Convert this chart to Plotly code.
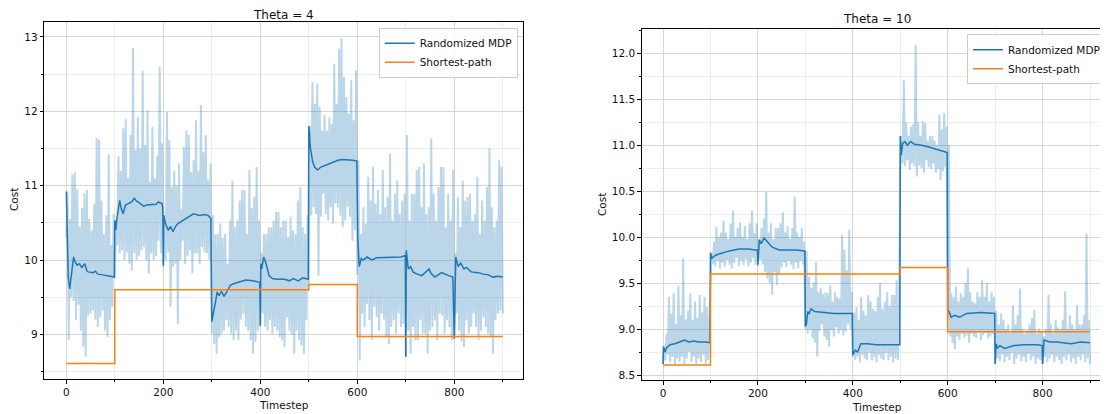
import plotly.graph_objects as go

# ---------------- data ----------------
t5 = [5 * i for i in range(181)]
seg_t = [0, 100, 200, 300, 400, 500, 600, 700, 800, 900]

# Theta = 4 panel
left_upper = [
    10.92, 10.55, 11.15, 11.18, 10.95, 10.45, 10.70, 10.90, 10.94, 10.55, 10.40, 10.75, 11.64, 11.62, 10.80, 10.35, 10.60, 11.42, 10.20, 10.62,
    10.53, 11.39, 11.20, 11.77, 11.90, 11.10, 11.68, 12.85, 11.48, 11.92, 11.50, 12.54, 11.55, 12.01, 11.05, 11.79, 11.10, 11.40, 12.60, 11.57,
    10.60, 11.99, 11.61, 10.98, 11.20, 11.00, 11.30, 10.69, 11.52, 11.74, 11.68, 11.18, 11.34, 11.88, 11.20, 12.08, 11.45, 11.68, 11.07, 11.30,
    10.60, 10.35, 10.35, 10.49, 10.30, 10.35, 9.95, 10.53, 11.07, 10.44, 10.53, 10.80, 10.94, 10.94, 10.35, 11.21, 10.70, 10.85, 11.25, 10.53,
    10.10, 10.35, 10.35, 10.44, 10.44, 10.53, 10.65, 10.65, 10.44, 10.53, 10.53, 10.31, 10.58, 10.40, 10.35, 10.80, 10.98, 10.44, 10.35, 10.60,
    11.80, 12.39, 12.10, 12.37, 12.06, 11.74, 11.95, 11.74, 11.92, 11.83, 12.64, 12.10, 12.84, 12.98, 12.46, 12.19, 11.97, 12.42, 11.88, 12.55,
    11.34, 10.35, 10.71, 10.49, 11.12, 10.80, 11.25, 10.76, 10.94, 10.62, 11.21, 10.71, 10.85, 11.43, 10.53, 10.89, 11.07, 10.62, 10.80, 10.89,
    11.68, 10.53, 10.89, 10.89, 11.21, 11.25, 10.71, 11.30, 10.62, 10.71, 11.64, 10.89, 10.53, 10.98, 11.25, 11.25, 10.44, 10.89, 10.53, 11.21,
    10.09, 10.85, 10.44, 11.07, 10.80, 10.85, 10.89, 10.53, 10.62, 11.12, 10.35, 10.80, 10.53, 10.98, 11.50, 10.71, 10.44, 10.53, 11.34, 11.25,
    10.09,
]
left_lower = [
    10.30, 8.92, 9.50, 9.45, 9.19, 9.40, 9.05, 8.83, 8.70, 9.25, 9.28, 9.32, 9.20, 9.10, 9.23, 9.32, 9.05, 8.96, 9.19, 9.37,
    9.75, 10.20, 10.09, 10.13, 10.00, 10.10, 9.95, 9.86, 10.09, 10.00, 10.05, 10.13, 10.17, 10.00, 9.82, 10.09, 10.00, 10.05, 10.26, 10.09,
    9.90, 10.00, 10.10, 9.37, 9.91, 9.95, 9.14, 10.00, 10.26, 9.95, 10.05, 10.13, 9.82, 10.09, 10.09, 9.95, 10.17, 10.10, 10.09, 10.00,
    9.01, 8.87, 8.74, 8.96, 9.01, 9.05, 9.19, 9.10, 9.01, 8.92, 9.05, 8.92, 9.20, 9.28, 9.10, 9.05, 8.92, 8.74, 8.90, 9.05,
    9.10, 9.28, 9.10, 9.05, 9.19, 9.01, 9.10, 9.05, 8.96, 8.92, 8.83, 9.23, 9.05, 9.00, 8.74, 9.05, 8.92, 8.85, 8.74, 9.19,
    9.64, 10.60, 10.71, 10.62, 9.79, 10.58, 10.89, 10.62, 10.53, 10.71, 10.49, 10.76, 10.71, 10.60, 10.44, 10.53, 10.71, 10.58, 10.26, 10.40,
    9.80, 8.65, 9.28, 9.10, 9.41, 9.19, 8.92, 9.37, 9.23, 9.05, 9.28, 9.20, 8.96, 8.87, 9.10, 9.19, 9.01, 9.28, 9.10, 9.14,
    8.70, 9.05, 8.74, 9.10, 8.92, 8.92, 9.19, 9.01, 9.01, 8.74, 9.05, 9.10, 9.19, 8.92, 9.28, 9.25, 9.01, 9.19, 9.10, 8.92,
    8.94, 9.28, 9.05, 8.90, 8.83, 9.19, 9.01, 9.10, 9.28, 9.10, 8.92, 9.05, 9.23, 9.10, 9.01, 8.96, 8.74, 9.19, 9.28, 9.32,
    9.28,
]
left_mean_t = [
    0, 2, 4, 7, 10, 15, 18, 22, 27, 32, 38, 42, 45, 55, 60, 65, 75, 85, 92, 99,
    100, 102, 104, 107, 110, 113, 117, 122, 128, 135, 140, 145, 150, 160, 165, 175, 185, 190, 197,
    199, 200, 201, 204, 210, 215, 220, 225, 230, 235, 245, 255, 262, 275, 285, 292, 298,
    300, 303, 308, 311, 315, 320, 325, 330, 338, 345, 355, 370, 385, 395, 399,
    400, 401, 403, 407, 412, 418, 425, 435, 450, 460, 468, 478, 488, 495, 499,
    500, 501, 503, 508, 512, 518, 525, 535, 545, 560, 570, 590, 599,
    601, 604, 608, 612, 620, 630, 640, 660, 690, 699,
    700, 701, 705, 710, 715, 720, 733, 748, 752, 760, 774, 788, 797,
    800, 803, 808, 813, 820, 825, 835, 850, 860, 870, 880, 890, 900,
]
left_mean_v = [
    10.92, 10.20, 9.77, 9.61, 9.80, 10.04, 9.98, 9.93, 9.95, 9.90, 9.95, 9.86, 9.84, 9.83, 9.85, 9.81, 9.80, 9.79, 9.78, 9.77,
    10.53, 10.40, 10.55, 10.69, 10.80, 10.70, 10.62, 10.74, 10.76, 10.78, 10.83, 10.79, 10.77, 10.72, 10.74, 10.74, 10.75, 10.78, 10.76,
    10.70, 9.93, 10.60, 10.50, 10.40, 10.45, 10.38, 10.45, 10.49, 10.51, 10.55, 10.60, 10.62, 10.60, 10.61, 10.60, 10.56,
    9.17, 9.30, 9.45, 9.57, 9.52, 9.58, 9.51, 9.56, 9.66, 9.68, 9.70, 9.73, 9.72, 9.71, 9.70,
    9.12, 9.95, 9.88, 10.04, 9.95, 9.79, 9.75, 9.74, 9.74, 9.72, 9.75, 9.72, 9.76, 9.75, 9.74,
    11.80, 11.75, 11.52, 11.32, 11.25, 11.21, 11.25, 11.27, 11.30, 11.34, 11.35, 11.34, 11.33,
    10.30, 9.91, 10.02, 10.00, 10.04, 10.00, 10.03, 10.03, 10.04, 10.06,
    8.70, 10.13, 9.88, 9.91, 9.84, 9.82, 9.79, 9.88, 9.82, 9.77, 9.83, 9.79, 9.77,
    8.94, 10.04, 9.91, 9.96, 9.88, 9.90, 9.84, 9.83, 9.81, 9.80, 9.77, 9.78, 9.77,
]
left_sp = [8.61, 9.60, 9.60, 9.60, 9.60, 9.67, 8.97, 8.97, 8.97, 8.97]

# Theta = 10 panel
right_upper = [
    8.80, 8.95, 9.35, 9.17, 9.39, 9.05, 9.47, 9.15, 9.77, 9.10, 9.20, 9.39, 9.10, 9.30, 9.12, 9.37, 9.18, 9.35, 9.24, 9.10,
    9.83, 9.95, 10.11, 10.00, 10.05, 10.18, 10.05, 9.98, 10.15, 10.29, 10.00, 10.10, 10.16, 10.00, 10.12, 9.98, 10.15, 10.29, 10.04, 10.15,
    9.98, 10.10, 10.20, 10.49, 10.05, 10.15, 9.98, 10.10, 10.10, 10.15, 10.27, 10.05, 10.12, 9.98, 10.10, 10.44, 10.05, 10.00, 10.10, 9.95,
    9.85, 9.57, 9.45, 9.50, 9.73, 9.40, 9.45, 9.38, 9.40, 9.39, 9.48, 9.30, 9.40, 9.35, 9.33, 10.02, 9.86, 9.64, 10.08, 9.40,
    9.18, 9.24, 9.10, 9.35, 9.20, 9.15, 9.37, 9.30, 9.22, 9.20, 9.35, 9.50, 9.22, 9.30, 9.40, 9.25, 9.37, 9.37, 9.53, 9.25,
    11.10, 11.71, 11.25, 11.10, 11.20, 11.23, 12.09, 11.25, 11.10, 11.26, 11.24, 11.05, 11.10, 11.10, 11.05, 11.00, 11.33, 11.17, 11.35, 11.20,
    11.00, 9.39, 9.35, 9.46, 9.30, 9.39, 9.35, 9.50, 9.66, 9.40, 9.30, 9.28, 9.40, 9.35, 9.53, 9.35, 9.50, 9.30, 9.40, 9.35,
    9.20, 9.05, 9.17, 9.10, 9.00, 9.05, 8.95, 9.26, 9.05, 9.15, 9.44, 9.00, 8.95, 8.98, 9.05, 9.12, 9.21, 8.95, 9.00, 8.98,
    8.92, 9.00, 9.37, 9.05, 8.95, 9.10, 9.02, 9.00, 9.10, 9.41, 9.00, 9.15, 9.05, 9.00, 9.26, 9.05, 9.05, 9.15, 10.04, 9.10,
    8.95,
]
right_lower = [
    8.62, 8.66, 8.72, 8.64, 8.70, 8.62, 8.68, 8.64, 8.70, 8.62, 8.68, 8.75, 8.64, 8.70, 8.62, 8.68, 8.64, 8.72, 8.62, 8.66,
    9.62, 9.71, 9.68, 9.74, 9.66, 9.72, 9.68, 9.75, 9.70, 9.66, 9.72, 9.78, 9.68, 9.74, 9.70, 9.76, 9.68, 9.72, 9.77, 9.70,
    9.68, 9.75, 9.70, 9.62, 9.55, 9.50, 9.37, 9.62, 9.48, 9.60, 9.67, 9.72, 9.67, 9.74, 9.70, 9.65, 9.72, 9.66, 9.74, 9.70,
    9.00, 8.95, 8.99, 8.90, 8.85, 8.70, 8.98, 9.05, 8.92, 8.88, 8.81, 8.99, 8.92, 9.02, 8.95, 8.99, 8.93, 8.97, 9.05, 9.00,
    8.70, 8.66, 8.70, 8.64, 8.72, 8.68, 8.66, 8.74, 8.66, 8.70, 8.64, 8.72, 8.68, 8.66, 8.74, 8.66, 8.70, 8.64, 8.68, 8.66,
    10.75, 10.80, 10.77, 10.84, 10.73, 10.80, 10.77, 10.66, 10.78, 10.75, 10.70, 10.84, 10.76, 10.74, 10.80, 10.70, 10.74, 10.62, 10.72, 10.76,
    9.10, 8.92, 8.85, 8.78, 8.92, 8.88, 8.95, 8.90, 8.93, 8.85, 8.95, 8.92, 8.90, 8.97, 8.88, 8.93, 8.96, 8.90, 8.92, 8.95,
    8.62, 8.68, 8.65, 8.72, 8.64, 8.70, 8.66, 8.74, 8.62, 8.68, 8.72, 8.65, 8.70, 8.64, 8.73, 8.66, 8.70, 8.62, 8.68, 8.66,
    8.62, 8.70, 8.64, 8.68, 8.72, 8.64, 8.70, 8.66, 8.62, 8.70, 8.66, 8.72, 8.64, 8.68, 8.62, 8.70, 8.66, 8.72, 8.64, 8.68,
    8.62,
]
right_mean_t = [
    0, 1, 4, 8, 15, 25, 35, 45, 55, 65, 75, 90, 99,
    100, 103, 110, 120, 140, 160, 180, 195, 199,
    200, 203, 207, 213, 220, 230, 245, 260, 280, 299,
    300, 302, 305, 308, 312, 320, 335, 360, 390, 399,
    400, 405, 410, 417, 430, 450, 470, 499,
    500, 502, 505, 510, 515, 522, 530, 545, 560, 580, 590, 599,
    600, 603, 607, 615, 625, 640, 670, 690, 699,
    700, 702, 705, 710, 720, 740, 760, 790, 799,
    800, 803, 815, 830, 860, 880, 900,
]
right_mean_v = [
    8.62, 8.81, 8.75, 8.80, 8.83, 8.84, 8.86, 8.88, 8.86, 8.87, 8.86, 8.86, 8.85,
    9.83, 9.77, 9.80, 9.82, 9.85, 9.87, 9.87, 9.86, 9.86,
    9.70, 9.97, 9.93, 9.99, 9.95, 9.89, 9.86, 9.86, 9.86, 9.85,
    9.03, 9.05, 9.19, 9.17, 9.22, 9.19, 9.18, 9.17, 9.17, 9.17,
    8.72, 8.77, 8.75, 8.84, 8.84, 8.83, 8.83, 8.83,
    11.10, 10.89, 11.02, 11.04, 11.00, 11.04, 11.01, 11.00, 10.98, 10.95, 10.93, 10.92,
    9.19, 9.19, 9.13, 9.15, 9.13, 9.17, 9.18, 9.17, 9.17,
    8.62, 8.84, 8.79, 8.82, 8.79, 8.82, 8.83, 8.83, 8.82,
    8.62, 8.88, 8.86, 8.86, 8.84, 8.86, 8.85,
]
right_sp = [8.61, 9.60, 9.60, 9.60, 9.60, 9.67, 8.97, 8.97, 8.97, 8.97]

titles = ["Theta = 4", "Theta = 10"]
series_names = ["Randomized MDP", "Shortest-path"]

# ---------------- style ----------------
BLUE = "#1f77b4"
ORANGE = "#ff7f0e"
BAND = "rgba(31,119,180,0.30)"
FONT = "DejaVu Sans"
TXT = "#111111"

# page body has an 8px margin: figure drawn at (8, 8)
OX, OY = 8, 8
W, H = 1100, 406


def fx(p):
    return (p - OX) / W


def fy(p):
    return 1 - (p - OY) / H


fig = go.Figure()


def add_panel(xa, ya, lower, upper, mt, mv, sp, legend):
    # noisy raw trace: alternate between the read lower / upper envelope samples
    raw_x, raw_y = [], []
    for i, t in enumerate(t5):
        raw_x += [t, t + 2.5]
        raw_y += [lower[i], upper[i]]
    raw_x, raw_y = raw_x[:-1], raw_y[:-1]
    fig.add_trace(go.Scatter(x=raw_x, y=raw_y, xaxis=xa, yaxis=ya, mode="lines",
                             line=dict(width=2.0, color=BAND), showlegend=False,
                             hoverinfo="skip"))
    fig.add_trace(go.Scatter(x=mt, y=mv, xaxis=xa, yaxis=ya, mode="lines",
                             line=dict(width=1.5, color=BLUE), name=series_names[0],
                             legend=legend))
    fig.add_trace(go.Scatter(x=seg_t, y=sp, xaxis=xa, yaxis=ya, mode="lines",
                             line=dict(width=1.5, color=ORANGE, shape="hv"),
                             name=series_names[1], legend=legend))


add_panel("x", "y", left_lower, left_upper, left_mean_t, left_mean_v, left_sp, "legend")
add_panel("x2", "y2", right_lower, right_upper, right_mean_t, right_mean_v, right_sp, "legend2")

# pixel geometry (page pixels)
L1, R1, T1, B1 = 44.3, 523.3, 22.0, 379.0
L2, R2, T2, B2 = 641.7, 1108.0, 29.3, 380.0

axis_common = dict(showline=True, linecolor="#000000", linewidth=1, mirror=True,
                   ticks="outside", ticklen=3.5, tickwidth=0.8, tickcolor="#000000",
                   showgrid=True, gridcolor="#d6d6d6", gridwidth=1, zeroline=False,
                   automargin=False,
                   tickfont=dict(family=FONT, size=10.5, color=TXT))


def xax(dom, rng, anchor):
    return dict(axis_common, domain=dom, range=rng, tick0=0, dtick=200, anchor=anchor,
                minor=dict(dtick=100, tick0=0, ticks="outside", ticklen=2, tickcolor="#000000",
                           showgrid=True, gridcolor="#ededed", gridwidth=1))


def yax(dom, rng, dt, mdt, anchor, fmt):
    return dict(axis_common, domain=dom, range=rng, dtick=dt, tick0=0, anchor=anchor,
                tickformat=fmt,
                minor=dict(dtick=mdt, ticks="outside", ticklen=2, tickcolor="#000000",
                           showgrid=True, gridcolor="#ededed", gridwidth=1))


legend_style = dict(xanchor="right", yanchor="top", traceorder="normal",
                    bgcolor="rgba(255,255,255,0.85)", bordercolor="#cccccc", borderwidth=1,
                    font=dict(family=FONT, size=10.5, color=TXT), itemwidth=30,
                    tracegroupgap=0)

fig.update_layout(
    width=W, height=H,
    margin=dict(l=0, r=0, t=0, b=0),
    paper_bgcolor="white", plot_bgcolor="white",
    font=dict(family=FONT, size=10.5, color=TXT),
    xaxis=xax([fx(L1), fx(R1)], [-45.4, 942.3], "y"),
    yaxis=yax([fy(B1), fy(T1)], [8.40, 13.20], 1, 0.5, "x", "d"),
    xaxis2=xax([fx(L2), min(1.0, fx(R2))], [-44.9, 937.8], "y2"),
    yaxis2=yax([fy(B2), fy(T2)], [8.446, 12.26], 0.5, 0.25, "x2", ".1f"),
    legend=dict(legend_style, x=fx(517.7), y=fy(27.7)),
    legend2=dict(legend_style, x=fx(1106.0), y=fy(34.3)),
    showlegend=True,
)


def text_ann(text, px, py, size, angle=0):
    return dict(text=text, x=fx(px), y=fy(py), xref="paper", yref="paper",
                xanchor="center", yanchor="middle", textangle=angle, showarrow=False,
                font=dict(family=FONT, size=size, color=TXT))


ann = [
    text_ann(titles[0], (L1 + R1) / 2, 15.5, 12),
    text_ann(titles[1], (L2 + 1111.4) / 2, 19, 12),
    text_ann("Timestep", (L1 + R1) / 2, 405, 10.5),
    text_ann("Timestep", (L2 + 1111.4) / 2, 407, 10.5),
    text_ann("Cost", 14, 200, 10.5, -90),
    text_ann("Cost", 602, 205, 10.5, -90),
]
fig.update_layout(annotations=ann)

fig.write_html("out.html")
